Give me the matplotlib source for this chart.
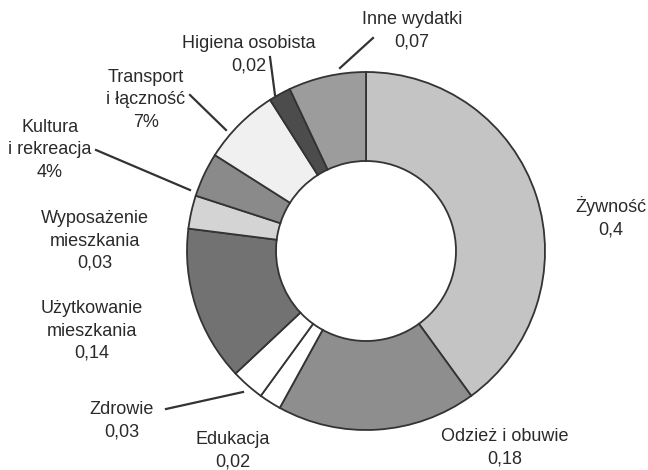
import matplotlib.pyplot as plt

plt.rcParams['font.family'] = ['Liberation Sans', 'DejaVu Sans']

# dane: struktura wydatków, zgodnie z ruchem wskazówek zegara od góry
categories = ['Żywność', 'Odzież i obuwie', 'Edukacja', 'Zdrowie',
              'Użytkowanie\nmieszkania', 'Wyposażenie\nmieszkania',
              'Kultura\ni rekreacja', 'Transport\ni łączność',
              'Higiena osobista', 'Inne wydatki']
values = [0.40, 0.18, 0.02, 0.03, 0.14, 0.03, 0.04, 0.07, 0.02, 0.07]
value_labels = ['0,4', '0,18', '0,02', '0,03', '0,14', '0,03', '4%', '7%', '0,02', '0,07']
colors = ['#c4c4c4', '#8e8e8e', '#ffffff', '#ffffff', '#727272',
          '#d4d4d4', '#8a8a8a', '#f0f0f0', '#4c4c4c', '#9c9c9c']

W, H = 648, 470


def px(x, y):
    # pozycja w pikselach obrazka (y od góry) -> współrzędne osi
    return (x, H - y)


fig = plt.figure(figsize=(6.48, 4.70), dpi=100)
ax = fig.add_axes([0, 0, 1, 1])

ax.pie(values, colors=colors, startangle=90, counterclock=False,
       center=px(366, 251), radius=179,
       wedgeprops=dict(width=89, edgecolor='#333333', linewidth=1.3))

ax.set_xlim(0, W)
ax.set_ylim(0, H)
ax.set_aspect('equal')
ax.axis('off')

# pozycje etykiet i linii odniesienia (piksele)
label_pos = [(611, 217), (505, 448), (233, 451), (122, 421), (92, 331),
             (95, 241), (50, 150), (146, 100), (249, 55), (412, 31)]
leaders = {
    3: ((166, 409), (243, 392)),
    6: ((96, 150), (190, 190)),
    7: ((190, 95), (226, 130)),
    8: ((270, 57), (275, 95)),
    9: ((373, 38), (340, 68)),
}

for i, (name, val) in enumerate(zip(categories, value_labels)):
    x, y = px(*label_pos[i])
    ax.text(x, y, name + '\n' + val, ha='center', va='center',
            fontsize=13, color='#2a2a2a', linespacing=1.42)

for i, (a, b) in leaders.items():
    (x1, y1), (x2, y2) = px(*a), px(*b)
    ax.plot([x1, x2], [y1, y2], color='#333333', lw=1.6)

fig.savefig('out.png', dpi=100)
